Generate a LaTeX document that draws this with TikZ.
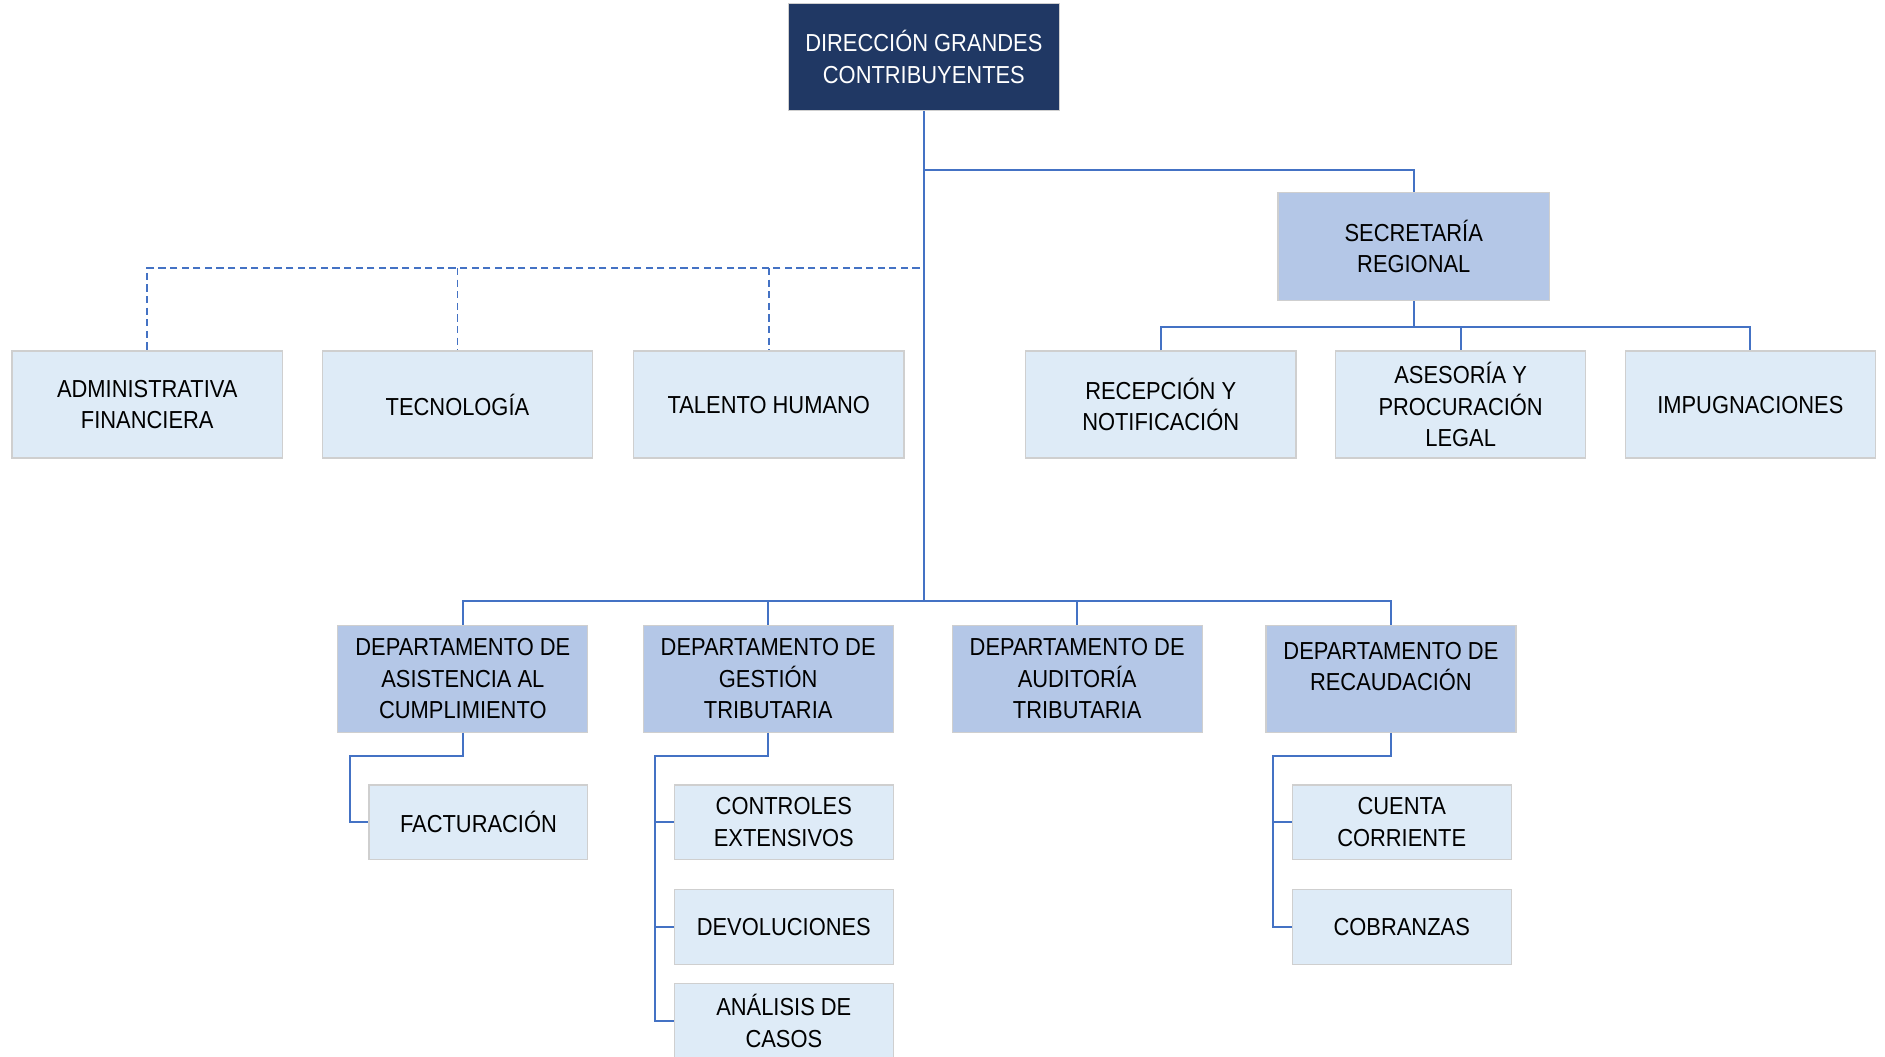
\documentclass[tikz,border=0pt]{standalone}
\usepackage{fontspec}
\setmainfont{Liberation Sans}[FakeStretch=0.89]
\definecolor{navy}{HTML}{203864}
\definecolor{midblue}{HTML}{B4C7E7}
\definecolor{lightblue}{HTML}{DEEBF7}
\definecolor{linkblue}{HTML}{4472C4}
\definecolor{edgegray}{HTML}{CFCFCF}
\def\dpx{0.6011pt}
\tikzset{
  orgbox/.style 2 args={draw=edgegray, line width=0.6pt, align=center, inner sep=0pt,
     minimum width=#1*\dpx, minimum height=#2*\dpx,
     font=\fontsize{12.3}{15.8}\selectfont},
  topbox/.style={orgbox={225}{89}, fill=navy, text=white},
  secbox/.style={orgbox={226}{90}, fill=midblue},
  unitbox/.style={orgbox={225}{89}, fill=lightblue},
  unitboxn/.style={orgbox={208}{89}, fill=lightblue},
  deptbox/.style={orgbox={208}{89}, fill=midblue},
  subbox/.style={orgbox={182}{62}, fill=lightblue},
  conn/.style={draw=linkblue, line width=1pt},
  dconn/.style={draw=linkblue, line width=0.9pt, dash pattern=on 3.6pt off 2.2pt}
}
\begin{document}
\begin{tikzpicture}[x=0.6011pt, y=-0.6011pt]
\useasboundingbox (0,0) rectangle (1568,879);
% nodes
\node[topbox] (top) at (768.5,47.5) {DIRECCIÓN GRANDES\\CONTRIBUYENTES};
\node[secbox] (sec) at (1176,205) {SECRETARÍA\\REGIONAL};
\node[unitbox] (adm) at (122.5,336.5) {ADMINISTRATIVA\\FINANCIERA};
\node[unitbox] (tec) at (380.5,336.5) {TECNOLOGÍA};
\node[unitbox] (tal) at (639.5,336.5) {TALENTO HUMANO};
\node[unitbox] (rec) at (965.5,336.5) {RECEPCIÓN Y\\NOTIFICACIÓN};
\node[unitboxn] (ase) at (1215,336.5) {ASESORÍA Y\\PROCURACIÓN\\LEGAL};
\node[unitboxn] (imp) at (1456,336.5) {IMPUGNACIONES};
\node[deptbox] (asis) at (385,564.5) {DEPARTAMENTO DE\\ASISTENCIA AL\\CUMPLIMIENTO};
\node[deptbox] (gest) at (639,564.5) {DEPARTAMENTO DE\\GESTIÓN\\TRIBUTARIA};
\node[deptbox] (aud) at (896,564.5) {DEPARTAMENTO DE\\AUDITORÍA\\TRIBUTARIA};
\node[deptbox] (reca) at (1157,564.5) {DEPARTAMENTO DE\\RECAUDACIÓN\\[-8.4pt]\strut};
\node[subbox] (fact) at (398,684) {FACTURACIÓN};
\node[subbox] (ctrl) at (652,684) {CONTROLES\\EXTENSIVOS};
\node[subbox] (dev) at (652,771) {DEVOLUCIONES};
\node[subbox] (ana) at (652,849) {ANÁLISIS DE\\CASOS};
\node[subbox] (cta) at (1166,684) {CUENTA\\CORRIENTE};
\node[subbox] (cob) at (1166,771) {COBRANZAS};
% helper coordinates
\coordinate (hA) at (768,141);
\coordinate (dEnd) at (765,223);
\coordinate (sb) at (1176,272);
\coordinate (bus) at (768,500);
\coordinate (s1) at (291,629);
\coordinate (s2) at (545,629);
\coordinate (s3) at (1059,629);
% connectors
\draw[conn] (top.south) -- (top.south |- bus);
\draw[conn] (top.south |- hA) -| (sec.north);
\draw[dconn] (dEnd) -| (adm.north);
\draw[dconn] (tec.north |- dEnd) -- (tec.north);
\draw[dconn] (tal.north |- dEnd) -- (tal.north);
\draw[conn] (sec.south) -- (sb);
\draw[conn] (rec.north) |- (sb) -| (imp.north);
\draw[conn] (ase.north |- sb) -- (ase.north);
\draw[conn] (asis.north) |- (bus) -| (reca.north);
\draw[conn] (gest.north |- bus) -- (gest.north);
\draw[conn] (aud.north |- bus) -- (aud.north);
\draw[conn] (asis.south) |- (s1) |- (fact.west);
\draw[conn] (gest.south) |- (s2) |- (ana.west);
\draw[conn] (s2) |- (ctrl.west);
\draw[conn] (s2) |- (dev.west);
\draw[conn] (reca.south) |- (s3) |- (cob.west);
\draw[conn] (s3) |- (cta.west);
\end{tikzpicture}
\end{document}
